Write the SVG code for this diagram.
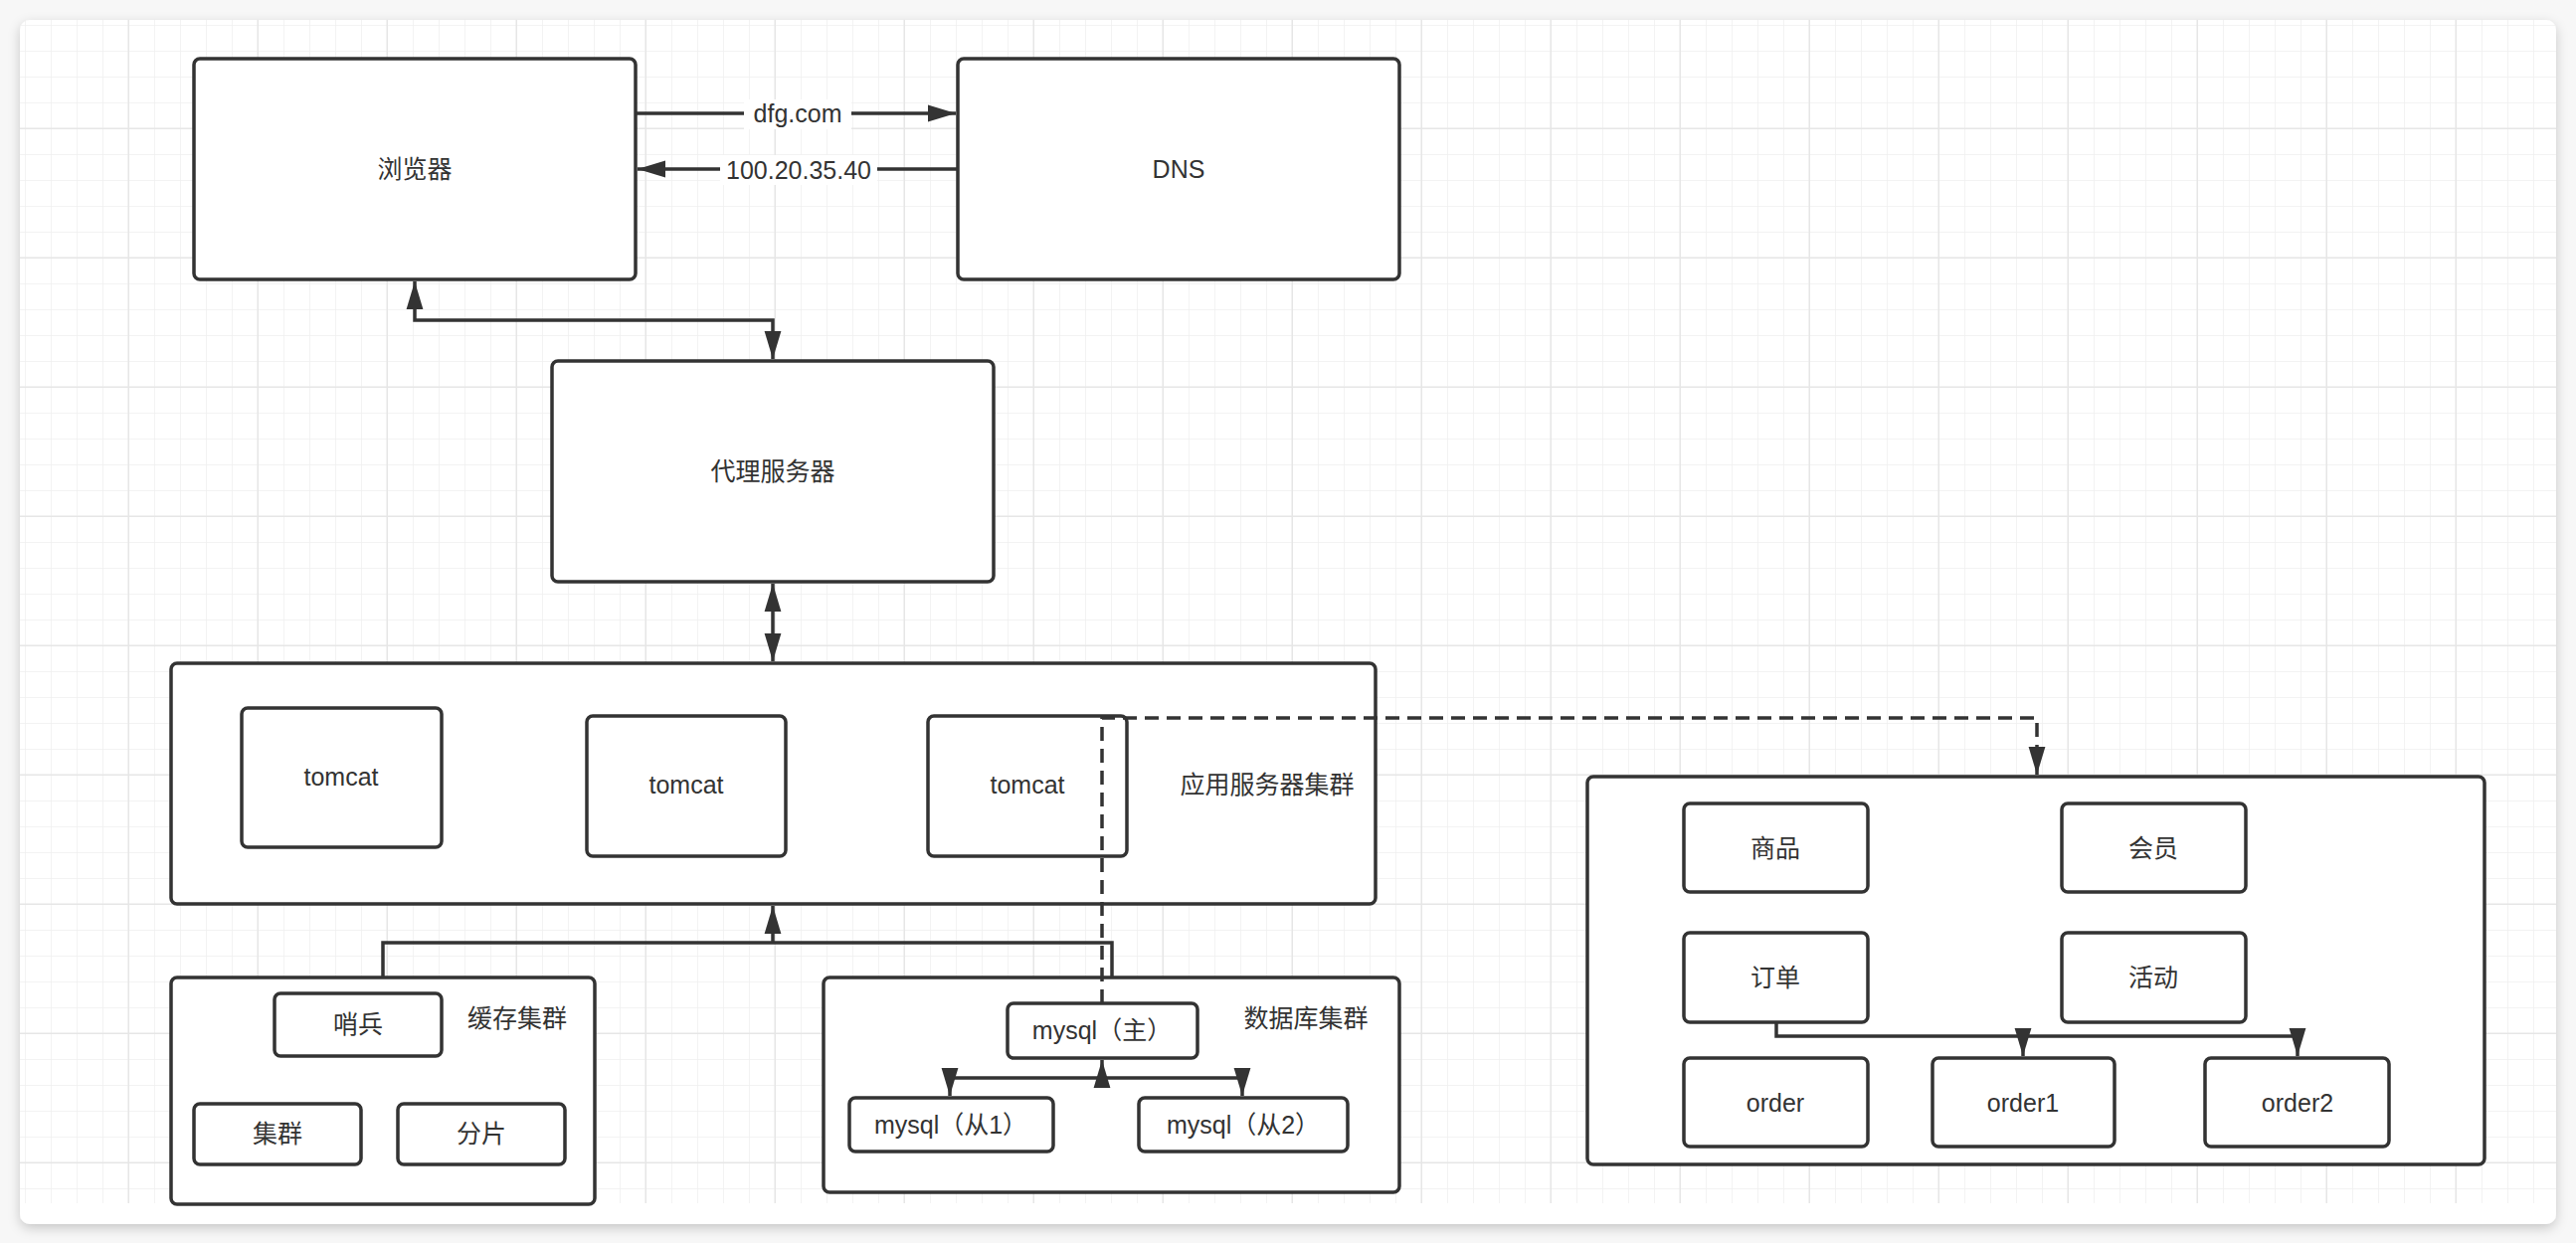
<svg xmlns="http://www.w3.org/2000/svg" width="2590" height="1250" viewBox="0 0 2590 1250">
<defs>
<pattern id="g" width="26" height="26" patternUnits="userSpaceOnUse"><path d="M26 0V26H0" fill="none" stroke="#f0f0f0" stroke-width="1.5"/></pattern>
<pattern id="G" width="130" height="130" patternUnits="userSpaceOnUse"><rect width="130" height="130" fill="url(#g)"/><path d="M130 0V130H0" fill="none" stroke="#e6e6e6" stroke-width="3"/></pattern>
<marker id="a" viewBox="0 0 10 10" refX="10" refY="5" markerWidth="8" markerHeight="8" orient="auto-start-reverse" markerUnits="strokeWidth"><path d="M0 2L10 5L0 8Z" fill="#333"/></marker>
<filter id="sh" x="-5%" y="-5%" width="110%" height="110%"><feDropShadow dx="0" dy="4" stdDeviation="6" flood-opacity="0.2"/></filter>
</defs>
<style>
rect.n{fill:#fff;stroke:#333;stroke-width:3.5}
text{font-family:"Liberation Sans","Noto Sans CJK SC",sans-serif;font-size:25px;fill:#333;text-anchor:middle;dominant-baseline:middle}
.c{fill:none;stroke:#333;stroke-width:3.5}
</style>
<rect width="2590" height="1250" fill="#f7f7f7"/>
<rect x="20" y="20" width="2550" height="1211" rx="10" fill="#fff" filter="url(#sh)"/>
<rect x="20" y="20" width="2550" height="1190" fill="url(#G)"/>
<g id="browser"><rect class="n" x="195" y="59" width="444" height="222" rx="6"/><text x="417" y="172">浏览器</text></g>
<g id="dns"><rect class="n" x="963" y="59" width="444" height="222" rx="6"/><text x="1185" y="172">DNS</text></g>
<g id="proxy"><rect class="n" x="555" y="363" width="444" height="222" rx="6"/><text x="777" y="476">代理服务器</text></g>
<g id="app"><rect class="n" x="172" y="667" width="1211" height="242" rx="6"/><text x="1274" y="791">应用服务器集群</text></g>
<g id="tomcat1"><rect class="n" x="243" y="712" width="201" height="140" rx="6"/><text x="343" y="783">tomcat</text></g>
<g id="tomcat2"><rect class="n" x="590" y="720" width="200" height="141" rx="6"/><text x="690" y="791">tomcat</text></g>
<g id="tomcat3"><rect class="n" x="933" y="720" width="200" height="141" rx="6"/><text x="1033" y="791">tomcat</text></g>
<g id="cache"><rect class="n" x="172" y="983" width="426" height="228" rx="6"/><text x="520" y="1026">缓存集群</text></g>
<g id="sentinel"><rect class="n" x="276" y="999" width="168" height="63" rx="6"/><text x="360" y="1032">哨兵</text></g>
<g id="cluster"><rect class="n" x="195" y="1110" width="168" height="61" rx="6"/><text x="279" y="1142">集群</text></g>
<g id="shard"><rect class="n" x="400" y="1110" width="168" height="61" rx="6"/><text x="484" y="1142">分片</text></g>
<g id="db"><rect class="n" x="828" y="983" width="579" height="216" rx="6"/><text x="1313" y="1026">数据库集群</text></g>
<g id="master"><rect class="n" x="1013" y="1009" width="191" height="55" rx="6"/><text x="1108" y="1038">mysql（主）</text></g>
<g id="slave1"><rect class="n" x="854" y="1104" width="205" height="54" rx="6"/><text x="956" y="1133">mysql（从1）</text></g>
<g id="slave2"><rect class="n" x="1145" y="1104" width="210" height="54" rx="6"/><text x="1250" y="1133">mysql（从2）</text></g>
<g id="biz"><rect class="n" x="1596" y="781" width="902" height="390" rx="6"/></g>
<g id="goods"><rect class="n" x="1693" y="808" width="185" height="89" rx="6"/><text x="1785" y="855">商品</text></g>
<g id="member"><rect class="n" x="2073" y="808" width="185" height="89" rx="6"/><text x="2165" y="855">会员</text></g>
<g id="orderm"><rect class="n" x="1693" y="938" width="185" height="90" rx="6"/><text x="1785" y="985">订单</text></g>
<g id="activity"><rect class="n" x="2073" y="938" width="185" height="90" rx="6"/><text x="2165" y="985">活动</text></g>
<g id="order"><rect class="n" x="1693" y="1064" width="185" height="89" rx="6"/><text x="1785" y="1111">order</text></g>
<g id="order1"><rect class="n" x="1943" y="1064" width="183" height="89" rx="6"/><text x="2034" y="1111">order1</text></g>
<g id="order2"><rect class="n" x="2217" y="1064" width="185" height="89" rx="6"/><text x="2310" y="1111">order2</text></g>
<g id="connectors">
<path class="c" d="M639 114H961" marker-end="url(#a)"/>
<rect x="748" y="100" width="108" height="30" fill="#fff"/><text x="802" y="116">dfg.com</text>
<path class="c" d="M963 170H641" marker-end="url(#a)"/>
<rect x="724" y="156" width="158" height="30" fill="#fff"/><text x="803" y="173">100.20.35.40</text>
<path class="c" d="M417 283V322H777V361" marker-start="url(#a)" marker-end="url(#a)"/>
<path class="c" d="M777 587V665" marker-start="url(#a)" marker-end="url(#a)"/>
<path class="c" d="M385 983V948H1118V983"/>
<path class="c" d="M777 948V911" marker-end="url(#a)"/>
<path class="c" d="M955 1102V1084H1249V1102" marker-start="url(#a)" marker-end="url(#a)"/>
<path class="c" d="M1108 1084V1066" marker-end="url(#a)"/>
<path class="c" d="M1108 1009V722H2048V779" stroke-dasharray="14 8" marker-end="url(#a)"/>
<path class="c" d="M1786 1028V1042H2310V1062" marker-end="url(#a)"/>
<path class="c" d="M2034 1042V1062" marker-end="url(#a)"/>
</g>
</svg>
